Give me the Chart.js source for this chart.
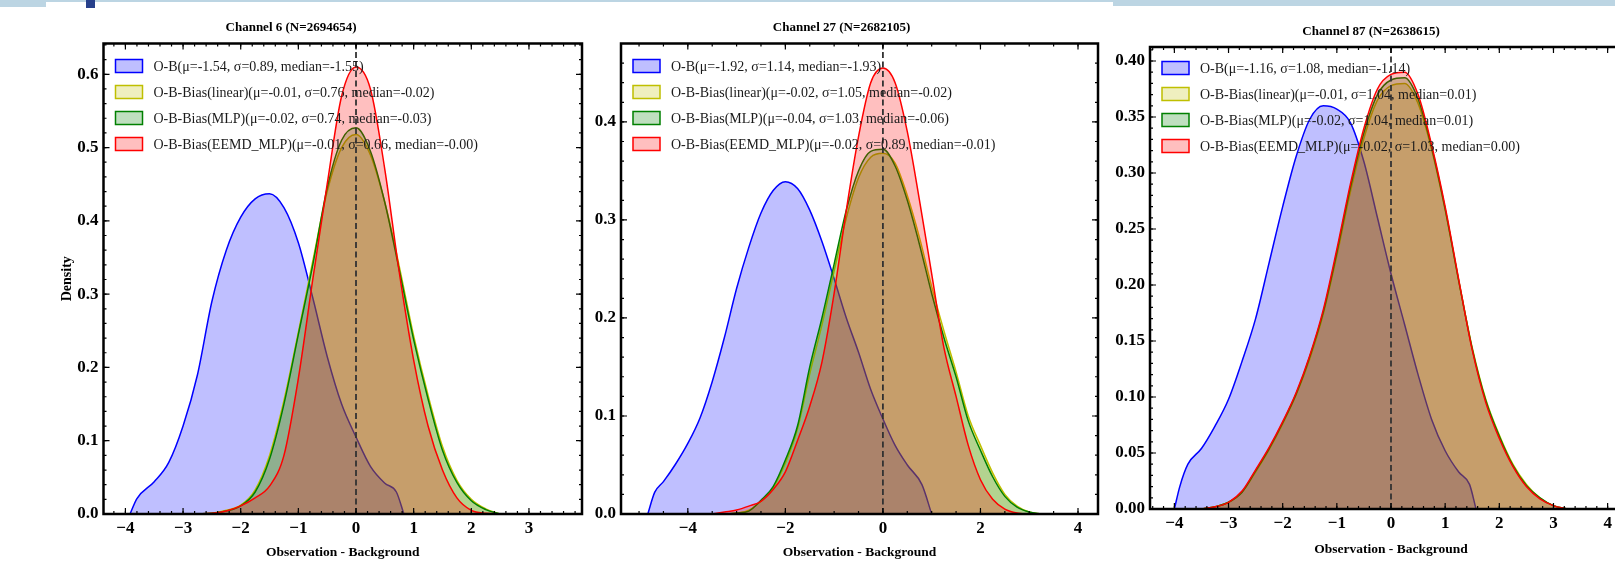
<!DOCTYPE html>
<html>
<head>
<meta charset="utf-8">
<script src="https://cdn.jsdelivr.net/npm/chart.js@4.4.1/dist/chart.umd.min.js"></script>
<style>
  html, body { margin: 0; padding: 0; background: #fff; width: 1615px; height: 562px; overflow: hidden; position: relative; }
  canvas { position: absolute; top: 0; }
  .strip { position: absolute; top: 0; background: #bcd5e3; }
</style>
</head>
<body>
<div class="strip" style="left:0;width:46px;height:7px"></div>
<div class="strip" style="left:46px;width:1067px;height:2px"></div>
<div class="strip" style="left:1113px;width:502px;height:6px"></div>
<div style="position:absolute;left:86px;top:0;width:9px;height:8px;background:#27408b"></div>
<canvas id="c6" width="600" height="562" style="left:0px"></canvas>
<canvas id="c27" width="530" height="562" style="left:585px"></canvas>
<canvas id="c87" width="560" height="562" style="left:1110px"></canvas>
<script>
// ---- Channel 6 ----
var ch6Title = 'Channel 6 (N=2694654)';
var ch6Labels = ['O-B(μ=-1.54, σ=0.89, median=-1.55)', 'O-B-Bias(linear)(μ=-0.01, σ=0.76, median=-0.02)',
  'O-B-Bias(MLP)(μ=-0.02, σ=0.74, median=-0.03)', 'O-B-Bias(EEMD_MLP)(μ=-0.01, σ=0.66, median=-0.00)'];
var ch6XTicks = [-4, -3, -2, -1, 0, 1, 2, 3];
var ch6YTicks = [0, 0.1, 0.2, 0.3, 0.4, 0.5, 0.6];
var ch6ObX = [-3.92, -3.8, -3.5, -3.25, -3, -2.75, -2.5, -2.25, -2, -1.75, -1.5, -1.25, -1, -0.75, -0.5, -0.25, 0, 0.25, 0.5, 0.7, 0.83];
var ch6ObY = [0, 0.021, 0.044, 0.07, 0.12, 0.19, 0.29, 0.36, 0.405, 0.43, 0.437, 0.418, 0.37, 0.295, 0.215, 0.15, 0.105, 0.065, 0.042, 0.03, 0];
var ch6GridX = [-2.75, -2.5, -2.25, -2, -1.75, -1.5, -1.25, -1, -0.75, -0.5, -0.25, 0, 0.25, 0.5, 0.75, 1, 1.25, 1.5, 1.75, 2, 2.25, 2.5];
var ch6LinY  = [0, 0.001, 0.005, 0.012, 0.033, 0.08, 0.155, 0.248, 0.345, 0.44, 0.5, 0.518, 0.49, 0.425, 0.338, 0.243, 0.162, 0.092, 0.046, 0.02, 0.007, 0];
var ch6MlpY  = [0, 0.001, 0.004, 0.011, 0.03, 0.075, 0.15, 0.245, 0.34, 0.445, 0.51, 0.527, 0.495, 0.425, 0.333, 0.238, 0.157, 0.087, 0.043, 0.018, 0.006, 0];
var ch6EemdY = [0, 0.001, 0.004, 0.011, 0.022, 0.038, 0.08, 0.185, 0.32, 0.45, 0.57, 0.61, 0.58, 0.47, 0.33, 0.21, 0.12, 0.06, 0.022, 0.005, 0.001, 0];

// ---- Channel 27 ----
var ch27Title = 'Channel 27 (N=2682105)';
var ch27Labels = ['O-B(μ=-1.92, σ=1.14, median=-1.93)', 'O-B-Bias(linear)(μ=-0.02, σ=1.05, median=-0.02)',
  'O-B-Bias(MLP)(μ=-0.04, σ=1.03, median=-0.06)', 'O-B-Bias(EEMD_MLP)(μ=-0.02, σ=0.89, median=-0.01)'];
var ch27XTicks = [-4, -2, 0, 2, 4];
var ch27YTicks = [0, 0.1, 0.2, 0.3, 0.4];
var ch27ObX = [-4.82, -4.68, -4.5, -4.25, -4, -3.75, -3.5, -3.25, -3, -2.75, -2.5, -2.25, -2, -1.75, -1.5, -1.25, -1, -0.75, -0.5, -0.25, 0, 0.25, 0.5, 0.8, 1.0];
var ch27ObY = [0, 0.022, 0.033, 0.051, 0.072, 0.098, 0.135, 0.18, 0.23, 0.272, 0.307, 0.33, 0.339, 0.332, 0.31, 0.278, 0.24, 0.2, 0.165, 0.127, 0.097, 0.07, 0.05, 0.03, 0];
var ch27GridX = [-3.5, -3.25, -3, -2.75, -2.5, -2.25, -2, -1.75, -1.5, -1.25, -1, -0.75, -0.5, -0.25, 0, 0.25, 0.5, 0.75, 1, 1.25, 1.5, 1.75, 2, 2.25, 2.5, 2.75, 3, 3.25];
var ch27LinY  = [0, 0, 0.001, 0.004, 0.013, 0.027, 0.052, 0.087, 0.143, 0.193, 0.248, 0.302, 0.343, 0.364, 0.368, 0.358, 0.325, 0.282, 0.232, 0.187, 0.145, 0.1, 0.07, 0.042, 0.02, 0.008, 0.002, 0];
var ch27MlpY  = [0, 0, 0.001, 0.003, 0.014, 0.028, 0.055, 0.09, 0.15, 0.2, 0.255, 0.31, 0.35, 0.37, 0.372, 0.355, 0.32, 0.275, 0.225, 0.18, 0.14, 0.095, 0.065, 0.038, 0.018, 0.007, 0.002, 0];
var ch27EemdY = [0, 0.002, 0.004, 0.008, 0.013, 0.025, 0.043, 0.075, 0.11, 0.155, 0.225, 0.31, 0.385, 0.44, 0.455, 0.44, 0.39, 0.32, 0.245, 0.17, 0.12, 0.07, 0.035, 0.015, 0.005, 0.001, 0, 0];

// ---- Channel 87 ----
var ch87Title = 'Channel 87 (N=2638615)';
var ch87Labels = ['O-B(μ=-1.16, σ=1.08, median=-1.14)', 'O-B-Bias(linear)(μ=-0.01, σ=1.04, median=0.01)',
  'O-B-Bias(MLP)(μ=-0.02, σ=1.04, median=0.01)', 'O-B-Bias(EEMD_MLP)(μ=-0.02, σ=1.03, median=0.00)'];
var ch87XTicks = [-4, -3, -2, -1, 0, 1, 2, 3, 4];
var ch87YTicks = [0, 0.05, 0.1, 0.15, 0.2, 0.25, 0.3, 0.35, 0.4];
var ch87ObX = [-4.0, -3.9, -3.75, -3.5, -3.25, -3, -2.75, -2.5, -2.25, -2, -1.75, -1.5, -1.25, -1, -0.75, -0.5, -0.25, 0, 0.25, 0.5, 0.75, 1, 1.25, 1.45, 1.57];
var ch87ObY = [0, 0.02, 0.04, 0.054, 0.074, 0.098, 0.132, 0.17, 0.22, 0.27, 0.315, 0.348, 0.36, 0.357, 0.345, 0.31, 0.26, 0.21, 0.165, 0.12, 0.08, 0.052, 0.033, 0.022, 0];
var ch87GridX = [-3.5, -3.25, -3, -2.75, -2.5, -2.25, -2, -1.75, -1.5, -1.25, -1, -0.75, -0.5, -0.25, 0, 0.25, 0.5, 0.75, 1, 1.25, 1.5, 1.75, 2, 2.25, 2.5, 2.75, 3, 3.25];
var ch87LinY  = [0, 0.002, 0.006, 0.015, 0.033, 0.053, 0.076, 0.102, 0.134, 0.174, 0.226, 0.283, 0.331, 0.365, 0.378, 0.38, 0.362, 0.321, 0.267, 0.204, 0.144, 0.098, 0.066, 0.04, 0.022, 0.01, 0.003, 0];
var ch87MlpY  = [0, 0.002, 0.006, 0.015, 0.034, 0.054, 0.077, 0.103, 0.136, 0.176, 0.229, 0.287, 0.336, 0.37, 0.383, 0.385, 0.366, 0.323, 0.268, 0.204, 0.143, 0.097, 0.065, 0.039, 0.021, 0.01, 0.003, 0];
var ch87EemdY = [0, 0.002, 0.006, 0.016, 0.035, 0.055, 0.078, 0.104, 0.137, 0.178, 0.232, 0.29, 0.34, 0.375, 0.388, 0.39, 0.37, 0.325, 0.27, 0.205, 0.142, 0.095, 0.063, 0.038, 0.02, 0.009, 0.003, 0];

Chart.defaults.font.family = "'Liberation Serif', 'Times New Roman', serif";
Chart.defaults.color = '#000';

var lineColors = ['#0000ff', '#bfbf00', '#008000', '#ff0000'];
var fillColors = ['rgba(0,0,255,0.25)', 'rgba(191,191,0,0.25)', 'rgba(0,128,0,0.25)', 'rgba(255,0,0,0.25)'];

// zero line, legend, inward ticks and the box frame
var decorPlugin = {
  id: 'decor',
  afterDatasetsDraw: function(chart, args, o) {
    var ctx = chart.ctx, a = chart.chartArea;
    var sx = chart.scales.x, sy = chart.scales.y;
    ctx.save();

    var x0 = sx.getPixelForValue(0);
    ctx.strokeStyle = '#333';
    ctx.lineWidth = 1.8;
    ctx.setLineDash([6, 3.5]);
    ctx.beginPath();
    ctx.moveTo(x0, a.bottom);
    ctx.lineTo(x0, a.top);
    ctx.stroke();
    ctx.setLineDash([]);

    // legend
    ctx.font = '14px "Liberation Serif"';
    ctx.textBaseline = 'middle';
    chart.data.datasets.forEach(function(ds, i) {
      var cy = a.top + o.legendTop + i * 26;
      ctx.fillStyle = ds.backgroundColor;
      ctx.fillRect(a.left + 12, cy - 6.5, 27, 13);
      ctx.strokeStyle = ds.borderColor;
      ctx.lineWidth = 1.5;
      ctx.strokeRect(a.left + 12, cy - 6.5, 27, 13);
      ctx.fillStyle = '#1a1a1a';
      ctx.fillText(ds.label, a.left + 50, cy + 1);
    });

    // ticks pointing inward on all four sides
    ctx.strokeStyle = '#000';
    ctx.lineWidth = 1.2;
    function xTick(v, len) {
      var px = sx.getPixelForValue(v);
      ctx.beginPath();
      ctx.moveTo(px, a.bottom); ctx.lineTo(px, a.bottom - len);
      ctx.moveTo(px, a.top); ctx.lineTo(px, a.top + len);
      ctx.stroke();
    }
    function yTick(v, len) {
      var py = sy.getPixelForValue(v);
      ctx.beginPath();
      ctx.moveTo(a.left, py); ctx.lineTo(a.left + len, py);
      ctx.moveTo(a.right, py); ctx.lineTo(a.right - len, py);
      ctx.stroke();
    }
    var k;
    for (k = Math.ceil(sx.min / o.xMinor - 1e-9); k * o.xMinor <= sx.max; k++) xTick(k * o.xMinor, 3);
    for (k = Math.ceil(sy.min / o.yMinor - 1e-9); k * o.yMinor <= sy.max; k++) yTick(k * o.yMinor, 3);
    sx.ticks.forEach(function(t) { xTick(t.value, 6); });
    sy.ticks.forEach(function(t) { yTick(t.value, 6); });

    ctx.lineWidth = 2.5;
    ctx.strokeRect(a.left, a.top, a.right - a.left, a.bottom - a.top);
    ctx.restore();
  }
};

function fmtX(v) {
  return v < 0 ? '\u2212' + Math.abs(v) : String(v);
}

function makePanel(p) {
  var xs = [p.obX, p.gridX, p.gridX, p.gridX];
  var ys = [p.obY, p.linY, p.mlpY, p.eemdY];
  var datasets = p.labels.map(function(lab, i) {
    return {
      label: lab,
      data: xs[i].map(function(x, k) { return {x: x, y: ys[i][k]}; }),
      borderColor: lineColors[i],
      backgroundColor: fillColors[i],
      borderWidth: 1.5,
      fill: 'origin',
      pointRadius: 0,
      cubicInterpolationMode: 'monotone',
      order: 4 - i
    };
  });
  var tickFont = {size: 17, weight: 'bold'};
  return new Chart(document.getElementById(p.id), {
    type: 'line',
    data: {datasets: datasets},
    options: {
      responsive: false,
      animation: false,
      events: [],
      layout: {padding: p.pad},
      plugins: {
        legend: {display: false},
        tooltip: {enabled: false},
        title: {display: true, text: p.title, color: '#000', font: {size: 13, weight: 'bold'},
                padding: {top: 0, bottom: p.titleGap}},
        decor: {legendTop: p.legendTop, xMinor: p.xMinor, yMinor: p.yMinor}
      },
      scales: {
        x: {
          type: 'linear', min: p.xMin, max: p.xMax,
          afterBuildTicks: function(s) { s.ticks = p.xTicks.map(function(v) { return {value: v}; }); },
          afterFit: function(s) { s.height = p.xAxisH; },
          grid: {display: false, drawTicks: false},
          border: {display: false},
          ticks: {padding: 4, autoSkip: false, maxRotation: 0, font: tickFont, callback: fmtX},
          title: {display: true, text: 'Observation - Background', color: '#000',
                  font: {size: 13.5, weight: 'bold'}, padding: {top: 0, bottom: p.xTitleB}}
        },
        y: {
          type: 'linear', min: 0, max: p.yMax,
          afterBuildTicks: function(s) { s.ticks = p.yTicks.map(function(v) { return {value: v}; }); },
          afterFit: function(s) { s.width = p.yAxisW; },
          grid: {display: false, drawTicks: false},
          border: {display: false},
          ticks: {padding: 5, autoSkip: false, font: tickFont,
                  callback: function(v) { return v.toFixed(p.yDec); }},
          title: {display: !!p.yTitle, text: p.yTitle || '', color: '#000',
                  font: {size: 14, weight: 'bold'}, padding: {top: 58.5, bottom: 0}}
        }
      }
    },
    plugins: [decorPlugin]
  });
}

makePanel({id: 'c6', title: ch6Title, labels: ch6Labels, xTicks: ch6XTicks, yTicks: ch6YTicks,
  obX: ch6ObX, obY: ch6ObY, gridX: ch6GridX, linY: ch6LinY, mlpY: ch6MlpY, eemdY: ch6EemdY,
  xMin: -4.38, xMax: 3.92, yMax: 0.642, yDec: 1, xMinor: 0.2, yMinor: 0.02,
  pad: {left: 0, right: 18, top: 20.2, bottom: 0}, titleGap: 7.7, yAxisW: 103.5, xAxisH: 48,
  xTitleB: 1, legendTop: 22.5, yTitle: 'Density'});

makePanel({id: 'c27', title: ch27Title, labels: ch27Labels, xTicks: ch27XTicks, yTicks: ch27YTicks,
  obX: ch27ObX, obY: ch27ObY, gridX: ch27GridX, linY: ch27LinY, mlpY: ch27MlpY, eemdY: ch27EemdY,
  xMin: -5.37, xMax: 4.41, yMax: 0.48, yDec: 1, xMinor: 0.5, yMinor: 0.02,
  pad: {left: 0, right: 17, top: 20.2, bottom: 0}, titleGap: 7.7, yAxisW: 36, xAxisH: 48,
  xTitleB: 1, legendTop: 22.5});

makePanel({id: 'c87', title: ch87Title, labels: ch87Labels, xTicks: ch87XTicks, yTicks: ch87YTicks,
  obX: ch87ObX, obY: ch87ObY, gridX: ch87GridX, linY: ch87LinY, mlpY: ch87MlpY, eemdY: ch87EemdY,
  xMin: -4.45, xMax: 4.45, yMax: 0.4125, yDec: 2, xMinor: 0.2, yMinor: 0.01,
  pad: {left: 0, right: 38, top: 23.7, bottom: 0}, titleGap: 7.7, yAxisW: 40, xAxisH: 53,
  xTitleB: 4.4, legendTop: 21});
</script>
</body>
</html>
